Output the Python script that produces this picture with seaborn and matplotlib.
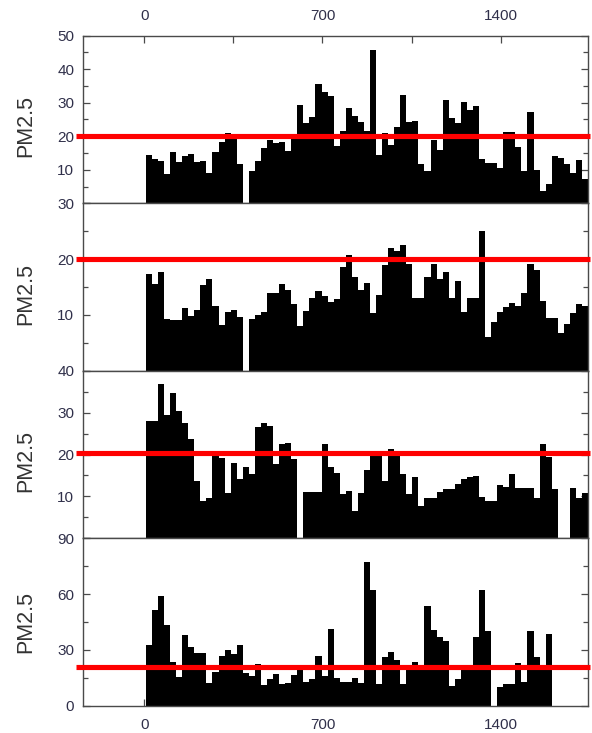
import numpy as np
import pandas as pd
import matplotlib
matplotlib.use("Agg")
import matplotlib.pyplot as plt
from matplotlib.ticker import FixedLocator
import seaborn as sns

# ---------------- data (daily PM2.5 means, four stations) ----------------
station1 = [14.4, 13.2, 12.7, 8.6, 15.4, 12.2, 14.2, 14.7, 12.4, 12.6,
            8.9, 15.4, 18.2, 21.0, 19.5, 11.6, 0, 9.6, 12.7, 16.6,
            18.9, 18.1, 18.2, 15.6, 19.1, 29.3, 23.9, 25.8, 35.6, 33.3,
            32.0, 17.2, 21.7, 28.5, 26.1, 24.2, 21.7, 45.7, 14.4, 20.9,
            17.4, 22.9, 32.3, 24.4, 24.6, 11.6, 9.6, 18.9, 15.9, 30.8,
            25.3, 23.9, 30.3, 27.8, 29.1, 13.1, 11.9, 11.9, 10.4, 21.2,
            21.2, 16.7, 9.6, 27.3, 9.9, 3.7, 5.7, 14.2, 13.4, 11.7,
            8.9, 12.9, 7.3]
station2 = [17.3, 15.5, 17.6, 9.3, 9.1, 9.1, 11.2, 9.8, 10.9, 15.4,
            16.4, 11.6, 8.2, 10.6, 10.9, 9.7, 0, 9.2, 10.0, 10.5,
            13.9, 14.0, 15.5, 14.5, 11.9, 8.0, 10.7, 13.0, 14.2, 13.3,
            12.4, 12.8, 18.5, 20.7, 16.8, 14.5, 15.7, 10.3, 13.6, 18.9,
            22.0, 21.4, 22.6, 19.1, 13.1, 13.1, 16.8, 19.2, 16.4, 17.7,
            13.1, 16.1, 10.5, 13.0, 13.0, 25.0, 6.1, 8.8, 10.5, 11.4,
            12.2, 11.6, 14.0, 19.1, 18.0, 12.5, 9.5, 9.5, 6.8, 8.4,
            10.3, 11.9, 11.6]
station3 = [28.1, 28.1, 36.8, 29.4, 34.6, 30.4, 27.4, 23.6, 13.7, 9.0,
            9.5, 19.6, 19.1, 10.7, 17.9, 14.1, 17.1, 15.3, 26.5, 27.4,
            26.8, 17.7, 22.5, 22.7, 18.9, 0, 11.1, 11.1, 11.1, 22.5,
            16.9, 15.5, 10.5, 11.4, 6.4, 10.9, 16.3, 19.6, 19.6, 13.7,
            21.2, 19.6, 15.3, 10.5, 14.6, 7.6, 9.5, 9.5, 11.1, 11.7,
            11.7, 13.0, 14.1, 14.6, 14.9, 9.8, 8.9, 8.9, 12.7, 12.3,
            15.4, 12.1, 12.1, 11.9, 9.7, 22.5, 19.5, 11.7, 0, 0,
            12.1, 9.5, 10.7]
station4 = [32.8, 51.6, 58.8, 43.2, 23.3, 15.2, 38.2, 31.4, 28.3, 28.3,
            12.2, 17.9, 26.5, 29.7, 28.0, 32.8, 17.6, 16.1, 22.6, 10.9,
            14.5, 17.2, 11.8, 12.2, 16.4, 19.3, 12.9, 14.5, 26.9, 16.1,
            41.2, 15.1, 12.9, 12.9, 15.1, 12.0, 77.1, 62.2, 11.5, 26.0,
            29.0, 24.6, 11.6, 21.0, 23.3, 19.2, 53.6, 40.7, 37.1, 34.8,
            10.6, 14.2, 19.2, 19.2, 36.7, 62.2, 40.3, 0, 10.2, 11.5,
            11.5, 23.1, 12.9, 40.3, 26.3, 19.2, 38.5]
series = [station1, station2, station3, station4]

thresholds = [20, 20, 20.3, 21]          # red reference lines
y_limits = [50, 30, 40, 90]
y_major = [[0, 10, 20, 30, 40, 50], [0, 10, 20, 30], [0, 10, 20, 30, 40], [0, 30, 60, 90]]
y_labels = [["", "10", "20", "30", "40", "50"], ["", "10", "20", "30"],
            ["", "10", "20", "30", "40"], ["0", "30", "60", "90"]]
y_minor = [[5, 15, 25, 35, 45], [5, 15, 25], [5, 15, 25, 35], [15, 45, 75]]
x_major = [0, 700, 1400]
x_labels = ["0", "700", "1400"]
x_minor = [350, 1050]
y_title = "PM2.5"

# ---------------- style ----------------
sns.set_style("ticks")
plt.rcParams["font.family"] = ["Liberation Sans", "DejaVu Sans"]
spine_c = "#4a4a4a"
text_c = "#30304a"

W, H = 592, 733
fig = plt.figure(figsize=(W / 100, H / 100), dpi=100)

left_px, right_px = 82.7, 587.7
panel_px = [35.7, 203.3, 370.7, 538.3, 705.7]
x0, width = 6.0, 23.8          # bin start and daily bin width
xlim = (-242, 1742)

for k in range(4):
    top, bot = panel_px[k], panel_px[k + 1]
    ax = fig.add_axes([left_px / W, 1 - bot / H, (right_px - left_px) / W, (bot - top) / H])
    vals = np.asarray(series[k], dtype=float)
    n = len(vals)
    t = x0 + width * (np.arange(n) + 0.5)
    df = pd.DataFrame({"t": t, "pm": vals})
    sns.histplot(data=df, x="t", weights="pm", binwidth=width,
                 binrange=(x0, x0 + width * n), element="step", fill=True,
                 color="black", alpha=1, linewidth=0, ax=ax)
    ax.set_xlim(*xlim)
    ax.set_ylim(0, y_limits[k])
    ax.set_xlabel("")
    ax.set_ylabel("")

    # red threshold line, extending a little left of the frame
    ax.plot([-0.013, 1.005], [thresholds[k], thresholds[k]],
            transform=ax.get_yaxis_transform(), color="#ff0000", lw=3.7,
            solid_capstyle="butt", clip_on=False, zorder=6)

    ax.yaxis.set_major_locator(FixedLocator(y_major[k]))
    ax.set_yticklabels(y_labels[k])
    ax.yaxis.set_minor_locator(FixedLocator(y_minor[k]))
    ax.tick_params(axis="y", which="both", direction="in", left=True, right=True,
                   colors=spine_c, labelcolor=text_c, labelsize=11, pad=6, width=0.9)
    ax.tick_params(axis="y", which="major", length=5)
    ax.tick_params(axis="y", which="minor", length=3.5)

    if k == 0 or k == 3:
        ax.xaxis.set_major_locator(FixedLocator(x_major))
        ax.set_xticklabels(x_labels)
        ax.xaxis.set_minor_locator(FixedLocator(x_minor))
        ax.tick_params(axis="x", which="both", direction="in", length=5, width=0.9,
                       colors=spine_c, labelcolor=text_c, labelsize=11, pad=9,
                       top=(k == 0), bottom=(k == 3),
                       labeltop=(k == 0), labelbottom=(k == 3))
    else:
        ax.set_xticks([])

    for sp in ax.spines.values():
        sp.set_visible(True)
        sp.set_color(spine_c)
        sp.set_linewidth(1.0)

    ax.text(-0.113, 0.46 if k < 3 else 0.5, y_title, transform=ax.transAxes,
            rotation=90, ha="center", va="center", fontsize=15.5, color="#333333")

fig.savefig("out.png", dpi=100)
